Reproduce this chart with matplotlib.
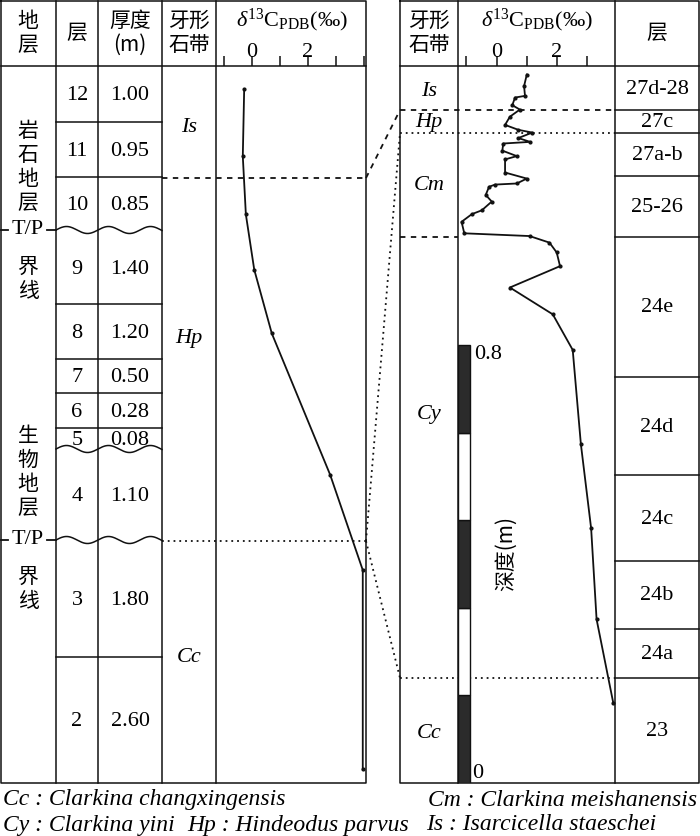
import numpy as np
import matplotlib
matplotlib.use("Agg")
import matplotlib.pyplot as plt

plt.rcParams["font.family"] = ["Liberation Serif", "Noto Sans CJK SC"]
plt.rcParams["mathtext.fontset"] = "custom"
plt.rcParams["mathtext.rm"] = "Liberation Serif"
plt.rcParams["mathtext.it"] = "Liberation Serif:italic"
CJK = ["Noto Sans CJK SC", "Liberation Serif"]

# ---- data ----
layer_no = ["12", "11", "10", "9", "8", "7", "6", "5", "4", "3", "2"]
layer_thk = ["1.00", "0.95", "0.85", "1.40", "1.20", "0.50", "0.28", "0.08", "1.10", "1.80", "2.60"]
# left curve: schematic height (% of column) vs d13C
left_h = [96.8, 87.4, 79.3, 71.6, 62.7, 43.0, 29.7, 1.9]
left_d13c = [-0.28, -0.33, -0.22, 0.08, 0.71, 2.80, 3.97, 3.97]
# right curve: depth (m) vs d13C
right_depth = [1.294, 1.273, 1.255, 1.252, 1.238, 1.230, 1.217, 1.202, 1.193, 1.188,
               1.178, 1.171, 1.168, 1.155, 1.145, 1.139, 1.115, 1.104, 1.095, 1.093,
               1.089, 1.074, 1.062, 1.046, 1.039, 1.025, 1.004, 0.999, 0.987, 0.969,
               0.944, 0.905, 0.856, 0.791, 0.619, 0.465, 0.299, 0.147]
right_d13c = [1.00, 0.91, 0.94, 0.61, 0.52, 0.77, 0.44, 0.28, 0.72, 1.18,
              0.72, 1.11, 0.22, 0.19, 0.67, 0.28, 0.28, 1.00, 0.67, -0.05,
              -0.25, -0.36, -0.16, -0.49, -0.82, -1.16, -1.07, 1.09, 1.75, 1.99,
              2.10, 0.44, 1.86, 2.52, 2.79, 3.13, 3.31, 3.86]
right_layers = ["27d-28", "27c", "27a-b", "25-26", "24e", "24d", "24c", "24b", "24a", "23"]
scale_edges = [0, 0.16, 0.32, 0.48, 0.64, 0.8]

# ---- layout (pixels) ----
W, H = 700, 836
HB = 66                      # header bottom
BOT = 783
L_cols = [1, 56, 98, 162, 216, 366]
L_bounds = [HB, 122, 177, 230, 304, 359, 393, 428, 449, 540, 657, BOT]
L_wavy = [230, 449, 540]
R_cols = [400, 458, 615, 699]
R_bounds = [HB, 110, 133, 176, 237, 377, 475, 561, 629, 678, BOT]
LR = L_cols[-1]

fig = plt.figure(figsize=(7, 8.36), dpi=100)
cv = fig.add_axes([0, 0, 1, 1])
cv.set_xlim(0, W); cv.set_ylim(H, 0); cv.axis("off")
LW = 1.1
K = "#111111"


def box(x0, x1, y0, y1):
    cv.plot([x0, x1, x1, x0, x0], [y0, y0, y1, y1, y0], color=K, lw=LW)


# left panel frame
box(L_cols[0], LR, 1, BOT)
cv.plot([L_cols[0], LR], [HB, HB], color=K, lw=LW)
for x in L_cols[1:-1]:
    cv.plot([x, x], [1, BOT], color=K, lw=LW)
for y in L_bounds[1:-1]:
    if y in L_wavy:
        xs = np.linspace(L_cols[1], L_cols[3], 200)
        cv.plot(xs, y - 3.5 * np.sin(2 * np.pi * (xs - L_cols[1]) / 42), color=K, lw=LW)
    else:
        cv.plot([L_cols[1], L_cols[3]], [y, y], color=K, lw=LW)
for i, (n, t) in enumerate(zip(layer_no, layer_thk)):
    yc = (L_bounds[i] + L_bounds[i + 1]) / 2 + 2
    cv.text(77, yc, n, ha="center", va="center", fontsize=16)
    cv.text(130, yc, t, ha="center", va="center", fontsize=16)

# left headers
cv.text(28, 33, "地\n层", ha="center", va="center", fontsize=15, family=CJK, linespacing=1.15)
cv.text(77, 33, "层", ha="center", va="center", fontsize=15, family=CJK)
cv.text(130, 33, "厚度\n(m)", ha="center", va="center", fontsize=15, family=CJK, linespacing=1.15)
cv.text(189, 33, "牙形\n石带", ha="center", va="center", fontsize=15, family=CJK, linespacing=1.15)
cv.text(292, 20, r"$\delta^{13}$C$_{\rm PDB}$(‰)", ha="center", va="center", fontsize=16)
cv.text(537, 20, r"$\delta^{13}$C$_{\rm PDB}$(‰)", ha="center", va="center", fontsize=16)

# stratigraphy column labels
for y in (230, 540):
    cv.text(28, y, "T/P", ha="center", va="center", fontsize=16)
    cv.plot([1, 8], [y, y], color=K, lw=1.3)
    cv.plot([47, 56], [y, y], color=K, lw=1.3)
    cv.text(28, y + 49, "界\n线", ha="center", va="center", fontsize=15, family=CJK, linespacing=1.15)
cv.text(28, 167, "岩\n石\n地\n层", ha="center", va="center", fontsize=15, family=CJK, linespacing=1.1)
cv.text(28, 472, "生\n物\n地\n层", ha="center", va="center", fontsize=15, family=CJK, linespacing=1.1)

# left zone labels and boundaries
for lab, y in (("Is", 127), ("Hp", 338), ("Cc", 658)):
    cv.text(189, y, lab, ha="center", va="center", fontsize=16, style="italic")
cv.plot([162, LR], [178, 178], color=K, lw=1.3, dashes=(3, 3))
cv.plot([162, LR], [541, 541], color=K, lw=1.3, dashes=(1, 2.2))

# connectors
cv.plot([LR, 400], [178, 110], color=K, lw=1.3, dashes=(3, 3))
cv.plot([LR, 400], [541, 133], color=K, lw=1.3, dashes=(1, 2.2))
cv.plot([LR, 400], [541, 678], color=K, lw=1.3, dashes=(1, 2.2))

# right panel frame
box(R_cols[0], R_cols[-1], 1, BOT)
cv.plot([R_cols[0], R_cols[-1]], [HB, HB], color=K, lw=LW)
for x in R_cols[1:-1]:
    cv.plot([x, x], [1, BOT], color=K, lw=LW)
for y in R_bounds[1:-1]:
    cv.plot([615, 699], [y, y], color=K, lw=LW)
for i, lab in enumerate(right_layers):
    yc = (R_bounds[i] + R_bounds[i + 1]) / 2 + 1
    cv.text(657, yc, lab, ha="center", va="center", fontsize=16)
cv.text(429, 33, "牙形\n石带", ha="center", va="center", fontsize=15, family=CJK, linespacing=1.15)
cv.text(657, 33, "层", ha="center", va="center", fontsize=15, family=CJK)
for lab, y in (("Is", 91), ("Hp", 122), ("Cm", 186), ("Cy", 415), ("Cc", 733)):
    cv.text(429, y, lab, ha="center", va="center", fontsize=16, style="italic")
cv.plot([400, 615], [110, 110], color=K, lw=1.3, dashes=(3, 3))
cv.plot([400, 615], [133, 133], color=K, lw=1.3, dashes=(1, 2.2))
cv.plot([400, 458], [237, 237], color=K, lw=1.3, dashes=(3, 3))
cv.plot([400, 615], [678, 678], color=K, lw=1.3, dashes=(1, 2.2))


def pix_axes(x0, y0, x1, y1):
    a = fig.add_axes([x0 / W, 1 - y1 / H, (x1 - x0) / W, (y1 - y0) / H])
    a.patch.set_alpha(0)
    for s in a.spines.values():
        s.set_visible(False)
    a.tick_params(axis="y", left=False, labelleft=False)
    a.tick_params(axis="x", top=True, labeltop=True, bottom=False, labelbottom=False,
                  direction="out", length=7, width=1.1, pad=-4, labelsize=16, color=K)
    return a


axL = pix_axes(216, HB, LR, BOT)
axL.set_xlim((216 - 252) / 27.9, (LR - 252) / 27.9); axL.set_ylim(0, 100)
axL.set_xticks([-1, 0, 1, 2, 3, 4], labels=["", "0", "", "2", "", ""])
axL.plot(left_d13c, left_h, color=K, lw=1.3, marker="o", ms=2)

axR = pix_axes(458, HB, 615, BOT)
axR.set_xlim(-1.278, 3.92); axR.set_ylim(0, (BOT - HB) / 547.5)
axR.set_xticks([-1, 0, 1, 2, 3], labels=["", "0", "", "2", ""])
axR.plot(right_d13c, right_depth, color=K, lw=1.3, marker="o", ms=2)
# depth scale bar
for i in range(len(scale_edges) - 1):
    axR.bar(-1.278, scale_edges[i + 1] - scale_edges[i], width=0.4, bottom=scale_edges[i],
            align="edge", color="#2b2b2b" if i % 2 == 0 else "white", edgecolor=K, lw=1)
axR.text(-0.74, 0.8, "0.8", ha="left", va="top", fontsize=16)
axR.text(-0.82, 0.0, "0", ha="left", va="bottom", fontsize=16)
axR.text(0.3, 0.42, "深度(m)", rotation=90, ha="center", va="center", fontsize=15, family=CJK)

# legend
LF = 17
cv.text(3, 800, "Cc : Clarkina changxingensis", ha="left", va="center", fontsize=LF, style="italic")
cv.text(697, 800, "Cm : Clarkina meishanensis", ha="right", va="center", fontsize=LF, style="italic")
cv.text(3, 825, "Cy : Clarkina yini", ha="left", va="center", fontsize=LF, style="italic")
cv.text(187, 825, "Hp : Hindeodus parvus", ha="left", va="center", fontsize=LF, style="italic")
cv.text(426, 825, "Is : Isarcicella staeschei", ha="left", va="center", fontsize=LF, style="italic")

fig.savefig("out.png", dpi=100)
